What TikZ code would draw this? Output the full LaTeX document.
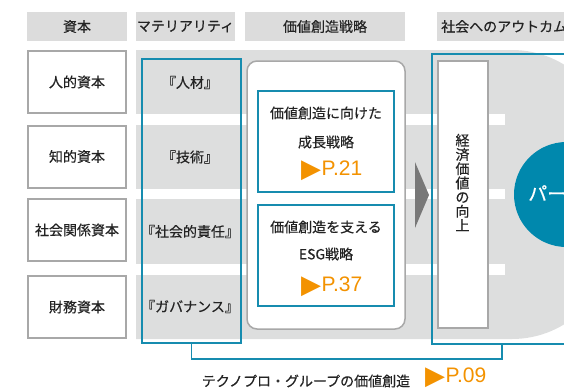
\documentclass[tikz,border=0pt]{standalone}
\usepackage{fontspec}
\setmainfont{Noto Sans CJK JP}[FakeBold=0.4]
\newfontfamily\latinfont{Liberation Sans}
\newfontfamily\symfont{DejaVu Sans}
\definecolor{hdrgray}{RGB}{220,220,220}
\definecolor{bggray}{RGB}{221,222,222}
\definecolor{tealc}{RGB}{22,140,175}
\definecolor{circteal}{RGB}{0,136,173}
\definecolor{orangec}{RGB}{243,146,0}
\definecolor{boxgray}{RGB}{168,168,168}
\definecolor{txt}{RGB}{35,35,35}
\definecolor{arrgray}{RGB}{120,120,120}
\newcommand{\tri}{{\symfont\fontsize{26}{26}\selectfont\raisebox{-2pt}{▶}}\kern0.5pt}
\begin{document}
\begin{tikzpicture}[x=1pt,y=-1pt,
 every node/.style={inner sep=0pt, text=txt, font=\fontsize{14}{16}\selectfont},
 hdr/.style={fill=hdrgray, minimum height=29pt},
 capbox/.style={draw=boxgray, fill=white, line width=2pt, minimum width=98pt, minimum height=62pt},
 tealframe/.style={draw=tealc, line width=1.5pt},
 innerbox/.style={tealframe, fill=white, minimum width=136pt, minimum height=101pt},
 pagelink/.style={text=orangec, font=\fontsize{21}{24}\latinfont},
 ]
\useasboundingbox (0,0) rectangle (564,391);
\clip (0,0) rectangle (564,391);

% headers
\node[hdr, minimum width=100pt] (h1) at (77,26.5) {資本};
\node[hdr, minimum width=99pt] (h2) at (185.5,26.5) {マテリアリティ};
\node[hdr, minimum width=160pt] (h3) at (325,26.5) {価値創造戦略};
\node[hdr, anchor=west, text width=146pt, align=left, inner xsep=4pt] (h4) at (437,26.5) {社会へのアウトカム};

% gray background band
\fill[bggray] (136,50) -- (512,50) arc[start angle=90,end angle=0,radius=100pt]
  -- (612,239) arc[start angle=0,end angle=-90,radius=100pt] -- (136,339) -- cycle;
\fill[white] (136,114) rectangle (505,125);
\fill[white] (136,188.5) rectangle (505,198.5);
\fill[white] (136,263.5) rectangle (505,274.5);

% capitals
\node[capbox] (c1) at (77,82) {人的資本};
\node[capbox] (c2) at (77,156.5) {知的資本};
\node[capbox] (c3) at (77,230) {社会関係資本};
\node[capbox] (c4) at (77,307) {財務資本};

% materiality
\node[tealframe, minimum width=99pt, minimum height=284pt] (mat) at (191.5,201) {};
\node (m1) at (190,82.5) {『人材』};
\node (m2) at (190,157) {『技術』};
\node (m3) at (190,231.5) {『社会的責任』};
\node (m4) at (190,306.5) {『ガバナンス』};

% strategy
\node[draw=boxgray, fill=white, line width=1.5pt, rounded corners=10pt,
      minimum width=158pt, minimum height=268pt] (strat) at (326,195) {};
\node[innerbox] (b1) at (326,141.5) {};
\node[innerbox] (b2) at (326,255.5) {};
\node (b1a) at (326,113) {価値創造に向けた};
\node (b1b) at (326,142) {成長戦略};
\node[pagelink, anchor=west] (b1c) at (301,170.5) {\tri P.21};
\node (b2a) at (326,227) {価値創造を支える};
\node (b2b) at (326,254) {ESG戦略};
\node[pagelink, anchor=west] (b2c) at (301,287) {\tri P.37};

% arrow
\fill[arrgray] (415,162) -- (429,195) -- (415,228) -- cycle;

% outcome
\node[tealframe, anchor=north west, minimum width=190pt, minimum height=290pt] (out) at (431,53) {};
\node[draw=boxgray, fill=white, line width=2pt, minimum width=50pt, minimum height=267pt] (kz) at (462.5,194.5) {};
\node[align=center, font=\fontsize{14}{14.2}\selectfont] (kzt) at (462.5,182.5) {経\\済\\価\\値\\の\\向\\上};
\node[circle, fill=circteal, minimum size=105pt] (pc) at (566.5,194.5) {};
\node[anchor=west, text=white, font=\fontsize{19}{22}\selectfont] (pt) at (528,193) {パー};

% bracket connector
\coordinate (oc) at (502,343);
\draw[tealc, line width=1.5pt] (mat.south) -- ++(0,15) -| (oc);

% footer
\node (foot) at (306,381) {テクノプロ・グループの価値創造};
\node[pagelink, anchor=west] (fp) at (425,377.5) {\tri P.09};
\end{tikzpicture}
\end{document}
